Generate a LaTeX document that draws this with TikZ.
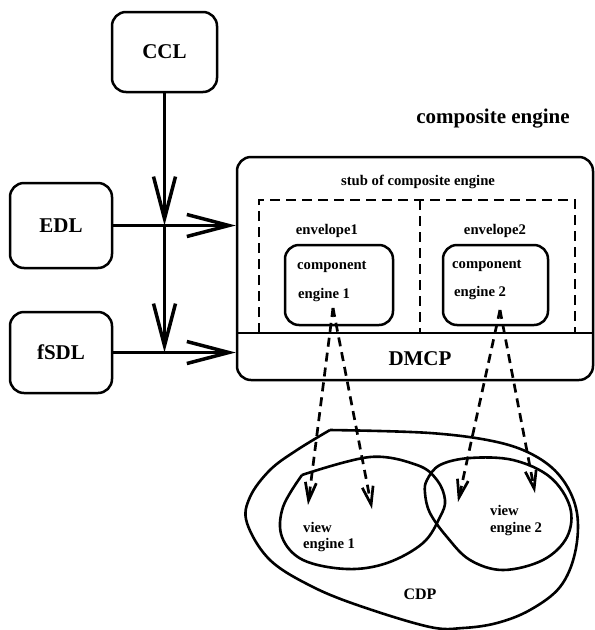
\documentclass[tikz,border=0pt]{standalone}
\usepackage{fontspec}
\setmainfont{Liberation Serif}
\usetikzlibrary{arrows.meta,calc}
\tikzset{
  lbox/.style={draw, line width=2.5pt, rounded corners=14pt, inner sep=0pt},
  bigtxt/.style={font=\fontsize{21}{23}\selectfont\bfseries},
  smalltxt/.style={font=\fontsize{14.7}{16}\selectfont\bfseries, inner sep=0pt},
  flow/.style={line width=3.5pt, -{Straight Barb[length=42pt,width=22pt]}},
  dashbox/.style={line width=2.5pt, dash pattern=on 10pt off 6pt},
  darr/.style={line width=2.7pt, dash pattern=on 9pt off 6pt, -{Straight Barb[length=18pt,width=11pt]}},
  blob/.style={line width=2.6pt}
}
\begin{document}
\begin{tikzpicture}[x=1pt,y=-1pt]
\path[use as bounding box] (0,0) rectangle (595,630);

% left boxes
\node[lbox, bigtxt, minimum width=105pt, minimum height=80pt] (ccl) at (164.5,52) {CCL};
\node[lbox, bigtxt, minimum width=102pt, minimum height=85pt] (edl) at (61,225.5) {EDL};
\node[lbox, bigtxt, minimum width=102pt, minimum height=81pt] (fsdl) at (61,352.5) {fSDL};

% composite engine
\node[bigtxt] (title) at (493,119) {composite engine};
\node[lbox, minimum width=356pt, minimum height=223pt] (comp) at (415,268.5) {};
\coordinate (dl) at (237,333);
\coordinate (dr) at (593,333);
\draw[line width=2.5pt] (dl) -- (dr);
\node[bigtxt] (dmcp) at (420,359) {DMCP};
\node[smalltxt] (stub) at (418,182) {stub of composite engine};

% dashed envelopes
\coordinate (e1) at (259,333);
\coordinate (e2) at (259,200);
\coordinate (e3) at (575,200);
\coordinate (e4) at (575,333);
\coordinate (m1) at (420,200);
\coordinate (m2) at (420,333);
\draw[dashbox] (e1) -- (e2) -- (e3) -- (e4);
\draw[dashbox] (m1) -- (m2);
\node[smalltxt] (env1) at (327,231) {envelope1};
\node[smalltxt] (env2) at (495,231) {envelope2};

% component engines
\node[lbox, minimum width=108pt, minimum height=80pt] (c1) at (339,285) {};
\node[lbox, minimum width=105pt, minimum height=80pt] (c2) at (495.5,285) {};
\node[smalltxt, anchor=west] (c1a) at (297,267) {component};
\node[smalltxt, anchor=west] (c1b) at (298,295) {engine 1};
\node[smalltxt, anchor=west] (c2a) at (452,266) {component};
\node[smalltxt, anchor=west] (c2b) at (454,293) {engine 2};

% flow arrows
\coordinate (j1) at (ccl.south |- edl.east);
\coordinate (j2) at (ccl.south |- fsdl.east);
\draw[flow] (ccl.south) -- (j1);
\draw[flow] (j1) -- (j2);
\draw[flow] (edl.east) -- (edl.east -| comp.west);
\draw[flow] (fsdl.east) -- (fsdl.east -| comp.west);

% CDP blobs
\draw[blob] plot[smooth, tension=0.6] coordinates {(330,430) (430,433) (497,442) (537,457) (563,480) (577,513) (575,553) (560,587) (530,610) (497,623) (463,628) (430,627) (363,607) (313,587) (270,560) (247,523) (250,497) (270,470) (297,450) (330,430)};
\draw[blob] plot[smooth, tension=0.6] coordinates {(302,475) (370,457) (417,465) (437,480) (445,500) (440,517) (423,543) (387,563) (347,569) (303,560) (282,537) (283,507) (302,475)};
\draw[blob] plot[smooth cycle, tension=0.6] coordinates {(427,480) (440,465) (470,458) (513,460) (550,477) (570,507) (567,537) (543,560) (503,570) (470,560) (447,537) (430,513) (425,493)};
\node[font=\fontsize{16}{18}\selectfont\bfseries] (cdp) at (420,594) {CDP};
\node[smalltxt, anchor=west] (v1a) at (303,527) {view};
\node[smalltxt, anchor=west] (v1b) at (303,545) {engine 1};
\node[smalltxt, anchor=west] (v2a) at (490,510) {view};
\node[smalltxt, anchor=west] (v2b) at (490,529) {engine 2};

% dashed mappings
\coordinate (s1) at (333,308);
\coordinate (s2) at (500,310);
\coordinate (t1) at (308,505);
\coordinate (t2) at (372,509);
\coordinate (t3) at (458,502);
\coordinate (t4) at (535,493);
\draw[darr] (s1) -- (t1);
\draw[darr] (s1) -- (t2);
\draw[darr] (s2) -- (t3);
\draw[darr] (s2) -- (t4);
\end{tikzpicture}
\end{document}
